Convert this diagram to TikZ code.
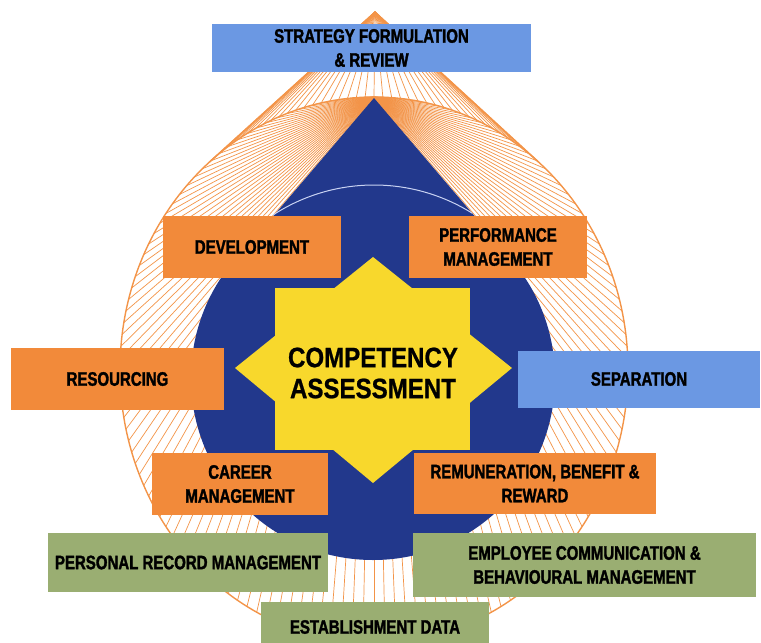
\documentclass[tikz,border=0pt]{standalone}
\usepackage{fontspec}
\setmainfont{Liberation Sans}
\newfontfamily\boxfont[FakeStretch=0.77,BoldFeatures={FakeBold=1.6}]{Liberation Sans}
\newfontfamily\corefont[FakeStretch=0.86,BoldFeatures={FakeBold=0.8}]{Liberation Sans}

\definecolor{hrorange}{HTML}{F28A3A}
\definecolor{hrline}{HTML}{F39448}
\definecolor{hrblue}{HTML}{6B98E3}
\definecolor{hrnavy}{HTML}{22388C}
\definecolor{hryellow}{HTML}{F8D82C}
\definecolor{hrgreen}{HTML}{9AAE72}
\definecolor{hrarc}{HTML}{C9D2F2}

\tikzset{
  card/.style={inner sep=0pt, align=center, text=black,
    font=\boxfont\bfseries\fontsize{19.5}{24}\selectfont},
  orangecard/.style={card, fill=hrorange},
  bluecard/.style={card, fill=hrblue},
  greencard/.style={card, fill=hrgreen},
  hatch/.style={hrline, line width=0.7pt},
}

\begin{document}
\begin{tikzpicture}[x=1pt,y=-1pt]
  \clip (0,0) rectangle (761,643);
  \fill[white] (0,0) rectangle (761,643);
  % chords from the top of the ellipse
  \foreach \a in {92.5,95,...,447.5}
    \draw[hatch] (374,97) -- ({374+254*cos(\a)},{370-273*sin(\a)});
  % rays from the tip down to the upper arc
  \foreach \a in {50,52,...,130}
    \draw[hatch] (375,12) -- ({374+254*cos(\a)},{370-273*sin(\a)});
  % drop outline
  \draw[hrline, line width=1.4pt] (374,370) ellipse [x radius=254pt, y radius=273pt];
  \draw[hrline, line width=1.4pt] (209.5,162) -- (375,12) -- (538.5,162);
  % inner blue drop
  \fill[hrnavy] (373,378) circle [radius=182pt];
  \fill[hrnavy] (374,98) -- (235.8,260) -- (512,260) -- cycle;
  \draw[hrarc, line width=1pt] (374,370) ++(123:185pt) arc [start angle=123, end angle=58, radius=185pt];
  % eight-point star
  \fill[hryellow] (275,288) rectangle (470,450);
  \fill[hryellow] (373,257) -- (512,368) -- (373,483) -- (235,368) -- cycle;
  \node[text=black, align=center, font=\corefont\bfseries\fontsize{28}{31}\selectfont]
    (core) at (373,373) {COMPETENCY\\ASSESSMENT};

  % surrounding cards
  \node[bluecard, minimum width=319pt, minimum height=48pt] (strategy) at (371.5,48) {STRATEGY FORMULATION\\\& REVIEW};
  \node[orangecard, minimum width=178pt, minimum height=62pt] (develop) at (252,247) {DEVELOPMENT};
  \node[orangecard, minimum width=178pt, minimum height=62pt] (perform) at (498,247) {PERFORMANCE\\MANAGEMENT};
  \node[orangecard, minimum width=213pt, minimum height=62pt] (resource) at (117.5,379) {RESOURCING};
  \node[bluecard, minimum width=242pt, minimum height=57pt] (separate) at (639,379) {SEPARATION};
  \node[orangecard, minimum width=176pt, minimum height=62pt] (career) at (240,484) {CAREER\\MANAGEMENT};
  \node[orangecard, minimum width=242pt, minimum height=61pt] (reward) at (535,483.5) {REMUNERATION, BENEFIT \&\\REWARD};
  \node[greencard, minimum width=280pt, minimum height=59pt] (record) at (188,562.5) {PERSONAL RECORD MANAGEMENT};
  \node[greencard, minimum width=343pt, minimum height=64pt] (comms) at (584.5,565) {EMPLOYEE COMMUNICATION \&\\BEHAVIOURAL MANAGEMENT};
  \node[greencard, minimum width=228pt, minimum height=50pt] (estab) at (375,627) {ESTABLISHMENT DATA};
\end{tikzpicture}
\end{document}
